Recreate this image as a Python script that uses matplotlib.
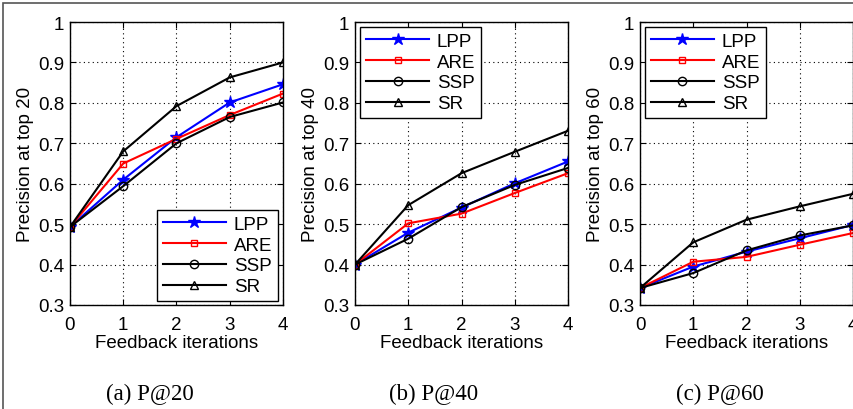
import matplotlib
matplotlib.use("Agg")
import matplotlib.pyplot as plt
from matplotlib.patches import Rectangle

# feedback iterations on the x axis
iterations = [0, 1, 2, 3, 4]

# P@20
p20_lpp = [0.493, 0.610, 0.715, 0.801, 0.846]
p20_are = [0.493, 0.650, 0.711, 0.770, 0.823]
p20_ssp = [0.493, 0.594, 0.700, 0.765, 0.801]
p20_sr = [0.493, 0.680, 0.792, 0.863, 0.900]

# P@40
p40_lpp = [0.400, 0.479, 0.541, 0.601, 0.655]
p40_are = [0.400, 0.502, 0.526, 0.577, 0.626]
p40_ssp = [0.400, 0.464, 0.542, 0.597, 0.639]
p40_sr = [0.400, 0.547, 0.626, 0.679, 0.731]

# P@60
p60_lpp = [0.342, 0.395, 0.432, 0.465, 0.498]
p60_are = [0.342, 0.407, 0.419, 0.449, 0.478]
p60_ssp = [0.342, 0.379, 0.435, 0.472, 0.497]
p60_sr = [0.342, 0.455, 0.511, 0.544, 0.575]

panels = [
    ("Precision at top 20", "(a) P@20", [p20_lpp, p20_are, p20_ssp, p20_sr], "lower right"),
    ("Precision at top 40", "(b) P@40", [p40_lpp, p40_are, p40_ssp, p40_sr], "upper left"),
    ("Precision at top 60", "(c) P@60", [p60_lpp, p60_are, p60_ssp, p60_sr], "upper left"),
]
method_names = ["LPP", "ARE", "SSP", "SR"]
styles = [
    dict(color="blue", marker="*", markersize=9, markerfacecolor="blue"),
    dict(color="red", marker="s", markersize=5, markerfacecolor="none"),
    dict(color="black", marker="o", markersize=6, markerfacecolor="none"),
    dict(color="black", marker="^", markersize=6, markerfacecolor="none"),
]

plt.rcParams["font.family"] = ["Liberation Sans", "DejaVu Sans"]
W, H = 854, 410
FS = 13.5
fig = plt.figure(figsize=(W / 100, H / 100), dpi=100)

# thin frame around the whole figure (only left/top visible)
fig.patches.append(Rectangle((3 / W, -0.05), 1.2, 1 - 4 / H + 0.05, transform=fig.transFigure,
                             fill=False, edgecolor="#555555", linewidth=1.2))

lefts = [70, 355, 640]
ax_w, top, bottom = 213, 23, 306
caption_x = [150, 434, 720]
# legend anchor corner in pixels (lower-right for panel a, upper-left otherwise)
legend_anchor = [(278, 302), (360, 28), (645, 28)]

for i, (ylab, caption, series, loc) in enumerate(panels):
    ax = fig.add_axes([lefts[i] / W, 1 - bottom / H, ax_w / W, (bottom - top) / H])
    for vals, name, st in zip(series, method_names, styles):
        ax.plot(iterations, vals, label=name, linewidth=1.5, markeredgewidth=1.0,
                markeredgecolor=st["color"], **st)
    ax.set_xlim(0, 4)
    ax.set_ylim(0.3, 1.0)
    ax.set_xticks(iterations)
    ax.set_yticks([0.3, 0.4, 0.5, 0.6, 0.7, 0.8, 0.9, 1.0])
    ax.set_yticklabels(["0.3", "0.4", "0.5", "0.6", "0.7", "0.8", "0.9", "1"])
    ax.grid(True, linestyle=(0, (1, 3)), color="black", linewidth=0.8)
    ax.tick_params(direction="in", top=True, right=True, labelsize=FS, length=4)
    ax.tick_params(axis="x", pad=8)
    ax.tick_params(axis="y", pad=4)
    for s in ax.spines.values():
        s.set_linewidth(1.0)
    ax.set_ylabel(ylab, fontsize=FS, labelpad=3)
    ax.set_xlabel("Feedback iterations", fontsize=FS, labelpad=1)

    bx, by = legend_anchor[i]
    leg = ax.legend(loc=loc, bbox_to_anchor=(bx / W, 1 - by / H), bbox_transform=fig.transFigure,
                    fontsize=FS, handlelength=3.4, fancybox=False, framealpha=1,
                    edgecolor="black", borderpad=0.3, labelspacing=0.2,
                    handletextpad=0.4, borderaxespad=0)
    leg.get_frame().set_linewidth(1.0)

    fig.text(caption_x[i] / W, 1 - 394 / H, caption, ha="center", va="center",
             fontsize=16.5, family=["Liberation Serif", "DejaVu Serif"])

fig.savefig("out.png", dpi=100)
